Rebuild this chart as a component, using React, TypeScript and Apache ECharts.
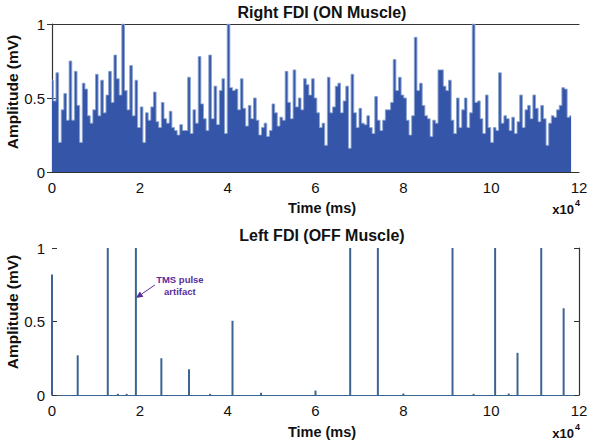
import React, { useEffect, useRef } from "react";
import * as echarts from "echarts";

// Right FDI (ON muscle): amplitude sampled every 600 ms
const rightStepMs = 600;
const rightAmps = [
  0.62, 0.48, 0.67, 0.2, 0.42, 0.53, 0.35, 0.75, 0.35, 0.68,
  0.45, 0.2, 0.6, 0.56, 0.38, 0.33, 0.42, 0.66, 0.38, 0.62,
  0.4, 0.52, 0.68, 0.47, 0.79, 0.63, 0.52, 1.0, 0.55, 0.42,
  0.72, 0.38, 0.62, 0.3, 0.44, 0.2, 0.4, 0.35, 0.44, 0.54,
  0.34, 0.3, 0.47, 0.36, 0.33, 0.41, 0.3, 0.28, 0.25, 0.32,
  0.28, 0.28, 0.64, 0.26, 0.42, 0.33, 0.78, 0.46, 0.36, 0.28,
  0.79, 0.36, 0.58, 0.32, 0.55, 0.63, 0.26, 1.0, 0.57, 0.55,
  0.56, 0.42, 0.63, 0.43, 0.31, 0.45, 0.36, 0.5, 0.35, 0.25,
  0.3, 0.33, 0.24, 0.28, 0.46, 0.4, 0.31, 0.37, 0.35, 0.68,
  0.47, 0.36, 0.69, 0.44, 0.5, 0.42, 0.63, 0.59, 0.52, 0.63,
  0.5, 0.4, 0.3, 0.33, 0.18, 0.64, 0.4, 0.44, 0.58, 0.6,
  0.4, 0.48, 0.58, 0.16, 0.66, 0.4, 0.3, 0.43, 0.33, 0.32,
  0.38, 0.3, 0.26, 0.51, 0.35, 0.28, 0.35, 0.42, 0.42, 0.47,
  0.76, 0.55, 0.64, 0.52, 0.5, 0.35, 0.25, 0.38, 0.91, 0.55,
  0.6, 0.45, 0.38, 0.36, 0.24, 0.35, 0.33, 0.69, 0.69, 0.58,
  0.55, 0.62, 0.35, 0.26, 0.5, 0.3, 0.42, 0.5, 0.3, 0.4,
  1.0, 0.47, 0.48, 0.36, 0.26, 0.52, 0.3, 0.2, 0.3, 0.28,
  0.67, 0.33, 0.38, 0.36, 0.28, 0.37, 0.26, 0.34, 0.52, 0.3,
  0.42, 0.45, 0.36, 0.52, 0.43, 0.34, 0.45, 0.36, 0.18, 0.33,
  0.38, 0.37, 0.42, 0.45, 0.57, 0.56, 0.37, 0.38,
];

// Left FDI (OFF muscle): isolated events
const leftTimes = [
  0, 5850, 12700, 15000, 17000, 19100, 24900, 31200, 36000, 41100, 47600,
  60000, 67900, 74200, 80000, 91200, 96000, 100900, 104000, 106000, 111400, 116500,
];
const leftAmps = [
  0.82, 0.27, 1.0, 0.008, 0.008, 1.0, 0.25, 0.175, 0.008, 0.505, 0.015,
  0.03, 1.0, 1.0, 0.01, 1.0, 0.008, 1.0, 0.01, 0.287, 1.0, 0.59,
];

const xTickLabels = ["0", "2", "4", "6", "8", "10", "12"];
const yTickLabels = ["0", "0.5", "1"];
const titles = ["Right FDI (ON Muscle)", "Left FDI (OFF Muscle)"];
const xName = "Time (ms)";
const yName = "Amplitude (mV)";
const annotation = ["TMS pulse", "artifact"];
const annotationAt = [19100, 0.66];

const FONT = "'Liberation Sans', Arial, sans-serif";

export default function App() {
  const ref = useRef<HTMLDivElement>(null);

  useEffect(() => {
    if (!ref.current) return;
    const chart = echarts.init(ref.current, null, { renderer: "svg" });

    const xLabel = {
      color: "#111",
      fontSize: 15,
      fontFamily: FONT,
      margin: 8,
      formatter: (v: number) => xTickLabels[Math.round(v / 20000)] ?? "",
    };
    const yLabel = {
      color: "#111",
      fontSize: 15,
      fontFamily: FONT,
      margin: 7,
      formatter: (v: number) => yTickLabels[Math.round(v / 0.5)] ?? "",
    };

    const mkX = (grid: number, pos: "bottom" | "top", showLabel: boolean, lineColor: string, show: boolean) => ({
      gridIndex: grid,
      type: "value",
      position: pos,
      min: 0,
      max: 120000,
      interval: 20000,
      axisLine: { show, onZero: false, lineStyle: { color: lineColor, width: 1.2 } },
      axisTick: { show: false },
      axisLabel: showLabel ? xLabel : { show: false },
      splitLine: { show: false },
    });
    const mkY = (grid: number, pos: "left" | "right", showLabel: boolean, showLine: boolean) => ({
      gridIndex: grid,
      type: "value",
      position: pos,
      min: 0,
      max: 1,
      interval: 0.5,
      axisLine: { show: showLine, lineStyle: { color: "#333", width: 1.2 } },
      axisTick: { show: true, inside: true, length: 5, lineStyle: { color: "#333" } },
      axisLabel: showLabel ? yLabel : { show: false },
      splitLine: { show: false },
    });

    const option: any = {
      animation: false,
      grid: [
        { left: 52, right: 21, top: 24, height: 148 },
        { left: 52, right: 21, top: 248, height: 147 },
      ],
      xAxis: [
        mkX(0, "bottom", true, "#333", true),
        mkX(0, "top", false, "#333", true),
        mkX(1, "bottom", true, "#3b6590", true),
      ],
      yAxis: [
        mkY(0, "left", true, false),
        mkY(0, "right", false, true),
        mkY(1, "left", true, false),
        mkY(1, "right", false, true),
      ],
      series: [
        {
          type: "line",
          xAxisIndex: 0,
          yAxisIndex: 0,
          step: "middle",
          symbol: "none",
          data: rightAmps.map((v, i) => [i * rightStepMs, v]),
          lineStyle: { color: "#8aa3d0", width: 0.9 },
          areaStyle: { color: "#3556a8", opacity: 1 },
        },
        {
          type: "bar",
          xAxisIndex: 2,
          yAxisIndex: 2,
          barWidth: 2,
          data: leftTimes.map((t, i) => [t, leftAmps[i]]),
          itemStyle: { color: "#3b6590" },
        },
      ],
    };
    chart.setOption(option);

    const tip = chart.convertToPixel({ xAxisIndex: 2, yAxisIndex: 2 }, annotationAt) as number[];
    const tail = [tip[0] + 19, tip[1] - 13];
    const dx = tip[0] - tail[0];
    const dy = tip[1] - tail[1];
    const len = Math.hypot(dx, dy);
    const ux = dx / len;
    const uy = dy / len;
    const headLen = 7;
    const headW = 3.2;
    const base = [tip[0] - ux * headLen, tip[1] - uy * headLen];
    const purple = "#5a2d9c";

    const boldText = (text: string, x: number, y: number, size: number, extra: any = {}) => ({
      type: "text",
      x,
      y,
      ...extra,
      style: {
        text,
        fill: "#111",
        font: `bold ${size}px ${FONT}`,
        textAlign: "center",
        textVerticalAlign: "middle",
        ...(extra.style || {}),
      },
    });

    chart.setOption({
      graphic: [
        boldText(titles[0], 322, 12, 16),
        boldText(titles[1], 322, 235, 16),
        boldText(xName, 322, 208, 14.5),
        boldText(xName, 322, 432, 14.5),
        boldText(yName, 12, 92, 15.5, { rotation: Math.PI / 2 }),
        boldText(yName, 12, 312, 15.5, { rotation: Math.PI / 2 }),
        boldText("x10", 574, 209, 13, { style: { textAlign: "right" } }),
        boldText("4", 575, 203, 9, { style: { textAlign: "left" } }),
        boldText("x10", 574, 433, 13, { style: { textAlign: "right" } }),
        boldText("4", 575, 427, 9, { style: { textAlign: "left" } }),
        {
          type: "line",
          shape: { x1: tail[0], y1: tail[1], x2: base[0], y2: base[1] },
          style: { stroke: purple, lineWidth: 1 },
        },
        {
          type: "polygon",
          shape: {
            points: [
              [tip[0], tip[1]],
              [base[0] - uy * headW, base[1] + ux * headW],
              [base[0] + uy * headW, base[1] - ux * headW],
            ],
          },
          style: { fill: purple },
        },
        {
          type: "text",
          x: tail[0] + 25,
          y: tail[1] + 1,
          style: {
            text: annotation.join("\n"),
            fill: purple,
            font: `bold 9.5px ${FONT}`,
            textAlign: "center",
            textVerticalAlign: "middle",
            lineHeight: 12,
          },
        },
      ],
    });

    return () => chart.dispose();
  }, []);

  return (
    <div
      ref={ref}
      style={{ position: "fixed", left: 0, top: 0, width: 600, height: 446, background: "#fff" }}
    />
  );
}
